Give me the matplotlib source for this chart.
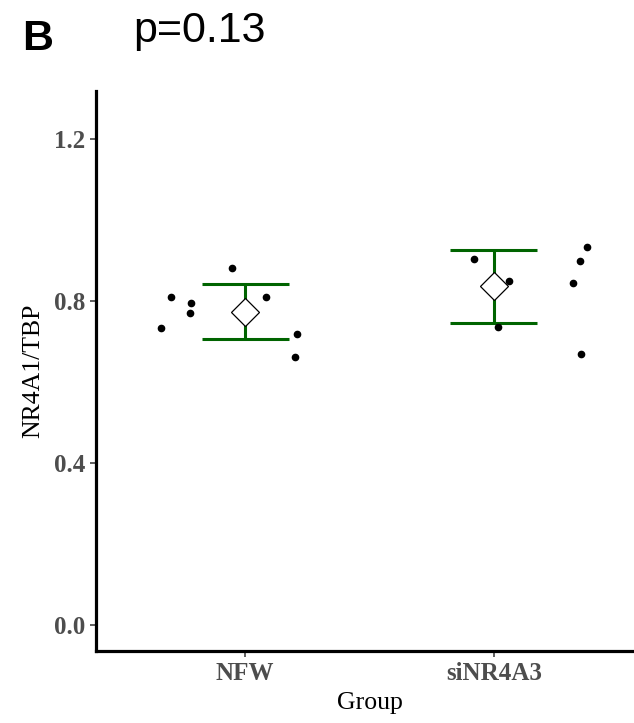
import numpy as np
import matplotlib.pyplot as plt

groups = ['NFW', 'siNR4A3']

# individual replicates (value, horizontal jitter)
nfw_vals = [0.733, 0.810, 0.795, 0.770, 0.881, 0.810, 0.718, 0.662]
nfw_jit = [-0.337, -0.297, -0.217, -0.221, -0.052, 0.084, 0.209, 0.201]
si_vals = [0.904, 0.849, 0.735, 0.933, 0.899, 0.844, 0.670]
si_jit = [-0.080, 0.061, 0.017, 0.376, 0.347, 0.317, 0.351]

# summary: mean with lower / upper error limits
means = [0.772, 0.836]
lower = [0.705, 0.746]
upper = [0.841, 0.926]

yticks = [0.0, 0.4, 0.8, 1.2]

fig = plt.figure(figsize=(6.34, 7.23), dpi=100)
ax = fig.add_axes([96/634, 1-651/723, (643-96)/634, (651-91)/723])

serif = 'Liberation Serif'
green = '#006400'

pos = np.arange(1, len(groups)+1)
for p, v, j in zip(pos, [nfw_vals, si_vals], [nfw_jit, si_jit]):
    ax.plot(p + np.array(j), v, 'o', color='black', ms=4.5, zorder=3)

cap = 0.175
for p, m, lo, hi in zip(pos, means, lower, upper):
    ax.plot([p, p], [lo, hi], color=green, lw=2.2, zorder=2, solid_capstyle='butt')
    ax.plot([p-cap, p+cap], [lo, lo], color=green, lw=2.2, zorder=2, solid_capstyle='butt')
    ax.plot([p-cap, p+cap], [hi, hi], color=green, lw=2.2, zorder=2, solid_capstyle='butt')
    ax.plot(p, m, 'D', ms=14, mfc='white', mec='black', mew=0.9, zorder=4)

ax.set_xlim(0.4, 2.6)
ax.set_ylim(-0.064, 1.318)
ax.set_xticks(pos)
ax.set_xticklabels(groups)
ax.set_yticks(yticks)
ax.set_yticklabels(['%.1f' % t for t in yticks])

for s in ['top', 'right']:
    ax.spines[s].set_visible(False)
for s in ['left', 'bottom']:
    ax.spines[s].set_linewidth(2.3)
    ax.spines[s].set_color('black')

ax.tick_params(length=4, width=1.1, color='#333333', pad=4,
               labelsize=18, labelcolor='#4D4D4D')
for lab in ax.get_xticklabels() + ax.get_yticklabels():
    lab.set_fontfamily(serif)
    lab.set_fontweight('bold')

ax.set_xlabel('Group', fontfamily=serif, fontsize=18.5, labelpad=5)
ax.set_ylabel('NR4A1/TBP', fontfamily=serif, fontsize=18.5, labelpad=7)

fig.text(22/634, 1-50.5/723, 'B', fontfamily='Liberation Sans', fontweight='bold',
         fontsize=31, va='baseline', ha='left')
fig.text(133/634, 1-42/723, 'p=0.13', fontfamily='Liberation Sans',
         fontsize=31, va='baseline', ha='left')

fig.savefig('out.png', dpi=100)
